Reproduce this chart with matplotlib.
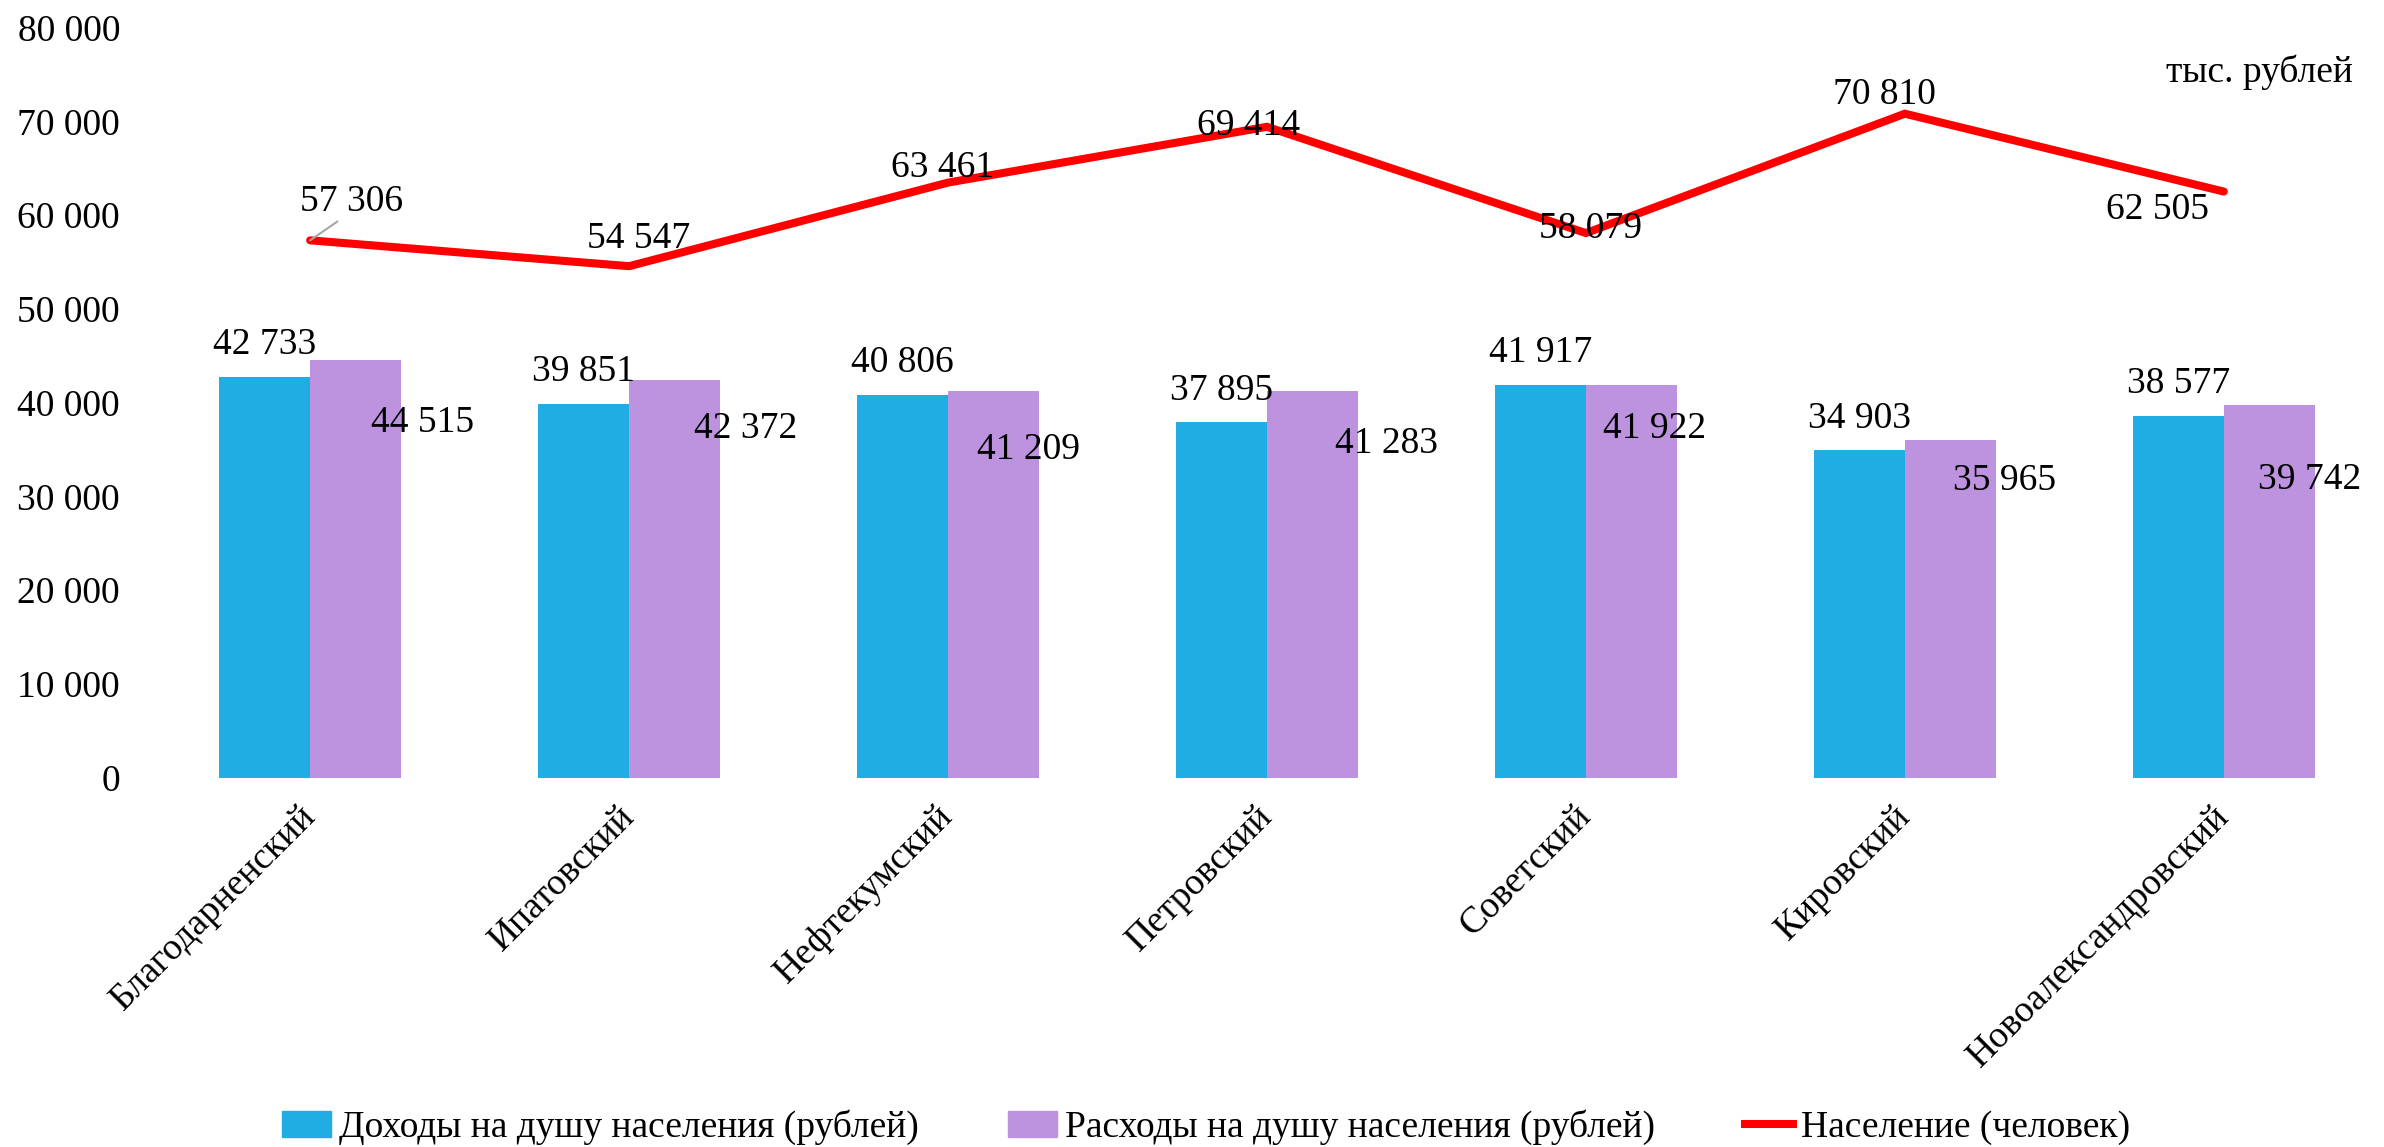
import numpy as np
import matplotlib
matplotlib.use("Agg")
import matplotlib.pyplot as plt
from matplotlib.lines import Line2D
from matplotlib.patches import Patch

plt.rcParams['font.family'] = ['Liberation Serif', 'DejaVu Serif']

districts = ['Благодарненский', 'Ипатовский', 'Нефтекумский', 'Петровский',
             'Советский', 'Кировский', 'Новоалександровский']
income = [42733, 39851, 40806, 37895, 41917, 34903, 38577]
expenses = [44515, 42372, 41209, 41283, 41922, 35965, 39742]
population = [57306, 54547, 63461, 69414, 58079, 70810, 62505]
yticks = [0, 10000, 20000, 30000, 40000, 50000, 60000, 70000, 80000]

# label offsets (points), hand placed as in the source chart
exp_off = [(48, -45), (51, -35), (25, -42), (53, -38), (17, -32), (39, -29), (29, -54)]
pop_off = [(30, 28), (7, 20), (-4, 11), (-13, 1), (3, 3), (-15, 14), (-48, -13)]

c_inc = '#1FADE3'
c_exp = '#BD93DF'
c_pop = '#FF0000'
fs = 27


def fmt(v):
	return f"{v:,}".replace(",", " ")


fig = plt.figure(figsize=(23.84, 11.47), dpi=100)
ax = fig.add_axes([0.0632, 0.322, 0.9365, 0.654])

x = np.arange(len(districts))
w = 0.285
ax.bar(x - w / 2, income, w, color=c_inc, zorder=2)
ax.bar(x + w / 2, expenses, w, color=c_exp, zorder=2)
ax.plot(x, population, color=c_pop, lw=5.8, solid_capstyle='round', solid_joinstyle='miter', zorder=3)

for i in range(len(x)):
	ax.annotate(fmt(income[i]), (x[i] - w / 2, income[i]), xytext=(0, 23), textcoords='offset points',
				ha='center', va='center', fontsize=fs, zorder=4)
	ax.annotate(fmt(expenses[i]), (x[i] + w / 2, expenses[i]), xytext=exp_off[i], textcoords='offset points',
				ha='center', va='center', fontsize=fs, zorder=4)
	if i == 0:
		ann = ax.annotate(fmt(population[i]), (x[i], population[i]), xytext=pop_off[i], textcoords='offset points',
						  ha='center', va='center', fontsize=fs, zorder=4,
						  arrowprops=dict(arrowstyle='-', color='#A6A6A6', lw=1.5, relpos=(0.4, 0.0),
										  shrinkA=0, shrinkB=0))
	else:
		ax.annotate(fmt(population[i]), (x[i], population[i]), xytext=pop_off[i], textcoords='offset points',
					ha='center', va='center', fontsize=fs, zorder=4)

ax.set_xlim(-0.5, len(districts) - 0.5)
ax.set_ylim(0, 80000)
ax.set_yticks(yticks)
ax.set_yticklabels([fmt(v) for v in yticks], fontsize=fs)
ax.set_xticks(x)
ax.set_xticklabels(districts, fontsize=fs, rotation=45, ha='right', va='center', rotation_mode='anchor')
ax.tick_params(axis='y', length=0, pad=22)
ax.tick_params(axis='x', length=0, pad=24)
for s in ax.spines.values():
	s.set_visible(False)

fig.text(0.987, 0.937, 'тыс. рублей', fontsize=fs, ha='right', va='center')

handles = [Patch(color=c_inc), Patch(color=c_exp), Line2D([0], [0], color=c_pop, lw=5.8)]
labels = ['Доходы на душу населения (рублей)', 'Расходы на душу населения (рублей)', 'Население (человек)']
fig.legend(handles, labels, loc='lower center', bbox_to_anchor=(0.506, -0.028), ncol=3, frameon=False,
		   fontsize=fs, handlelength=1.3, handletextpad=0.2, columnspacing=2.4)

fig.savefig('out.png', dpi=100)
